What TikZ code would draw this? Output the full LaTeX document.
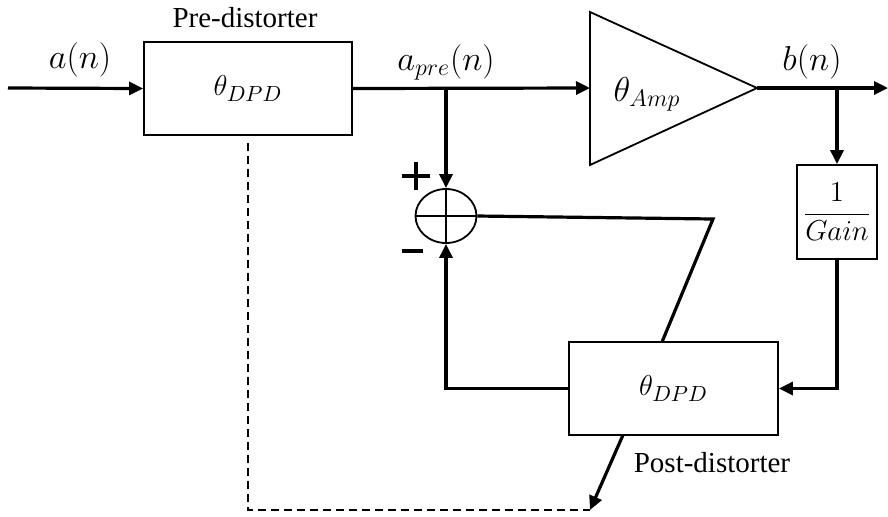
\documentclass[tikz,border=0pt]{standalone}
\usepackage{fontspec}
\setmainfont{Liberation Serif}
\usetikzlibrary{arrows.meta,shapes.geometric,calc}
\begin{document}
\begin{tikzpicture}[x=0.5pt,y=-0.5pt,
  font=\fontsize{14.5}{17}\selectfont,
  blk/.style={draw,line width=0.9pt,rectangle,inner sep=0pt},
  sig/.style={line width=1.6pt},
  arr/.style={sig,-{Triangle[length=7pt,width=6.5pt]}},
  lbl/.style={inner sep=0pt},
  big/.style={font=\fontsize{16.5}{19}\selectfont},
  mid/.style={font=\fontsize{15.5}{18}\selectfont},
  sign/.style={line width=2.2pt}]
\useasboundingbox (0,0) rectangle (888,516);
% blocks
\node[blk,mid,minimum width=104pt,minimum height=46.5pt] (pre) at (248,88.5) {$\theta_{DPD}$};
\node[lbl] (prelbl) at (245,18) {Pre-distorter};
\coordinate (ampin) at (590,88);
\coordinate (ampout) at (757,88);
\draw[line width=0.9pt] (590,12) -- (757,88) -- (590,165) -- cycle;
\node[lbl,big] (amptxt) at (647,94) {$\theta_{Amp}$};
\node[draw,line width=0.9pt,ellipse,minimum width=30.5pt,minimum height=27pt,inner sep=0pt] (sum) at (446,216) {};
\draw[line width=0.9pt] (sum.north) -- (sum.south) (sum.west) -- (sum.east);
\node[blk,minimum width=40pt,minimum height=47pt,font=\fontsize{13.5}{16}\selectfont] (gain) at (837,212) {$\displaystyle\frac{1}{Gain}$};
\node[blk,mid,minimum width=104.5pt,minimum height=46.5pt] (post) at (673.5,388.5) {$\theta_{DPD}$};
\node[lbl] (postlbl) at (712,463) {Post-distorter};
% labels
\node[lbl,big] (an) at (80,60) {$a(n)$};
\node[lbl,big] (apre) at (446,62) {$a_{pre}(n)$};
\node[lbl,big] (bn) at (812,62) {$b(n)$};
% signs
\draw[sign] (402,176) -- (430,176) (416,162) -- (416,190);
\draw[sign] (402,251) -- (423,251);
% coordinates
\coordinate (in) at (8,88);
\coordinate (out) at (888,88);
\coordinate (j1) at (446,88);
\coordinate (j2) at (837,88);
\coordinate (kink) at (713,219);
\coordinate (ptop) at (662,342);
\coordinate (pbot) at (623,435);
\coordinate (ptip) at (590,510);
\coordinate (dstart) at (248,143);
\coordinate (dcorner) at (248,510);
% connectors
\draw[arr] (in) -- (pre.west);
\draw[arr] (pre.east) -- (ampin);
\draw[arr] (j1) -- (sum.north);
\draw[arr] (ampout) -- (out);
\draw[arr] (j2) -- (gain.north);
\draw[arr] (gain.south) |- (post.east);
\draw[arr] (post.west) -| (sum.south);
\draw[sig] (sum.east) -- (kink) -- (ptop);
\draw[arr] (pbot) -- (ptip);
\draw[line width=0.7pt,dash pattern=on 4pt off 2.5pt] (dstart) -- (dcorner) -- (ptip);
\end{tikzpicture}
\end{document}
